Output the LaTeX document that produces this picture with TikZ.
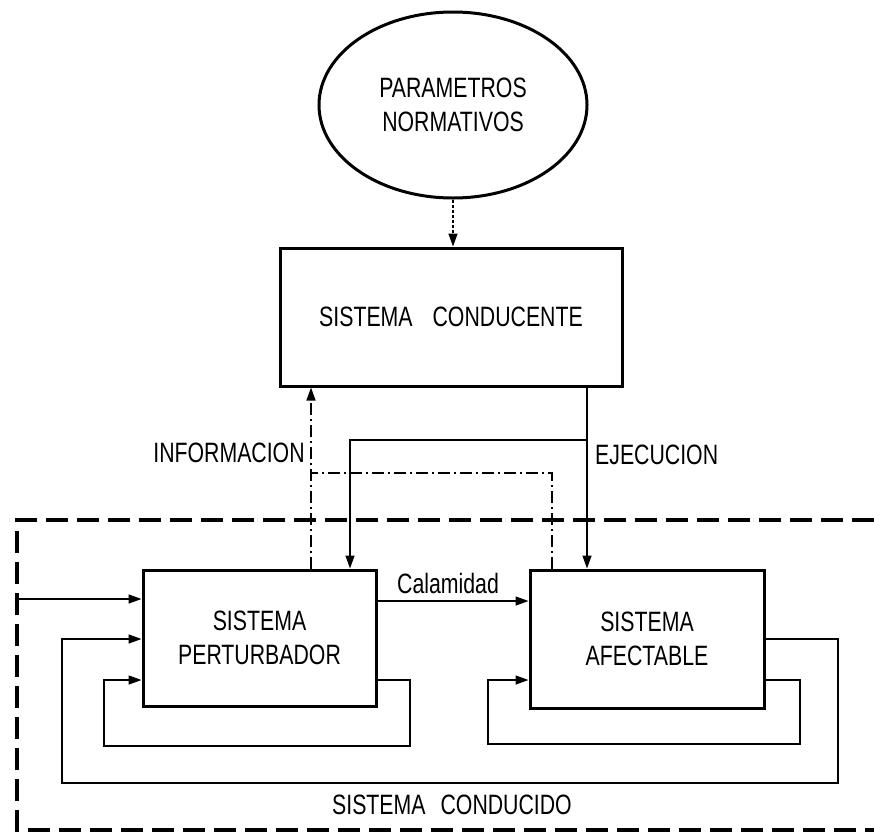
\documentclass[tikz,border=0pt]{standalone}
\usepackage{fontspec}
\setmainfont{Liberation Sans}[FakeStretch=0.76]
\usetikzlibrary{arrows.meta,shapes.geometric}
\newcommand\labfont{\fontsize{28}{34}\selectfont}
\begin{document}
\begin{tikzpicture}[x=1pt,y=-1pt,
  box/.style={draw, line width=3pt, rectangle, inner sep=0pt, align=center, font=\labfont},
  conn/.style={line width=1.5pt},
  tip/.style={-{Triangle[length=13pt,width=9pt]}},
  dashdot/.style={dash pattern=on 12pt off 4pt on 2pt off 4pt},
  dotline/.style={dash pattern=on 3pt off 2pt},
  frame/.style={line width=4pt, dash pattern=on 22pt off 9pt},
  lbl/.style={inner sep=0pt, font=\labfont}]
\useasboundingbox (0,0) rectangle (874,833);

% nodes
\node[ellipse, draw, line width=3pt, minimum width=268pt, minimum height=186pt,
      inner sep=0pt, align=center, font=\labfont] (par) at (453,105) {PARAMETROS\\NORMATIVOS};
\node[box, minimum width=342pt, minimum height=138pt] (cond) at (451,317) {SISTEMA\hspace{20pt}CONDUCENTE};
\node[box, minimum width=233pt, minimum height=136pt] (pert) at (259.5,638) {SISTEMA\\PERTURBADOR};
\node[box, minimum width=234pt, minimum height=138pt] (afec) at (647,639) {SISTEMA\\AFECTABLE};

\node[lbl] (info) at (229,453) {INFORMACION};
\node[lbl, anchor=west] (ejec) at (595,455) {EJECUCION};
\node[lbl] (cal) at (448,583) {Calamidad};
\node[lbl] (condu) at (452,805) {SISTEMA\hspace{15pt}CONDUCIDO};

% frame of the driven system
\draw[frame] (874,520) -- (17,520) -- (17,830) -- (874,830);

% guide coordinates
\coordinate (xI) at (311,0);
\coordinate (xE) at (587,0);
\coordinate (xP) at (350,0);
\coordinate (xA) at (552,0);
\coordinate (yH) at (0,440);
\coordinate (yD) at (0,473);
\coordinate (ext) at (17,599);
\coordinate (yC) at (0,601);
\coordinate (yB) at (0,639);
\coordinate (yS) at (0,680);

% connectors
\draw[conn, dotline, tip] (par.south) -- (par.south |- cond.north);
\draw[conn, dashdot, tip] (pert.north -| xI) -- (cond.south -| xI);
\draw[conn, dashdot] (afec.north -| xA) -- (xA |- yD) -- (xI |- yD);
\draw[conn, tip] (cond.south -| xE) -- (afec.north -| xE);
\draw[conn, tip] (xE |- yH) -- (xP |- yH) -- (pert.north -| xP);

\draw[conn, tip] (ext) -- (pert.west |- ext);
\draw[conn, tip] (pert.east |- yC) -- (afec.west |- yC);
\draw[conn, tip] (afec.east |- yB) -- (838,639) -- (838,783) -- (62,783) -- (62,639) -- (pert.west |- yB);
\draw[conn, tip] (pert.east |- yS) -- (410,680) -- (410,746) -- (104,746) -- (104,680) -- (pert.west |- yS);
\draw[conn, tip] (afec.east |- yS) -- (800,680) -- (800,744) -- (488,744) -- (488,680) -- (afec.west |- yS);
\end{tikzpicture}
\end{document}
